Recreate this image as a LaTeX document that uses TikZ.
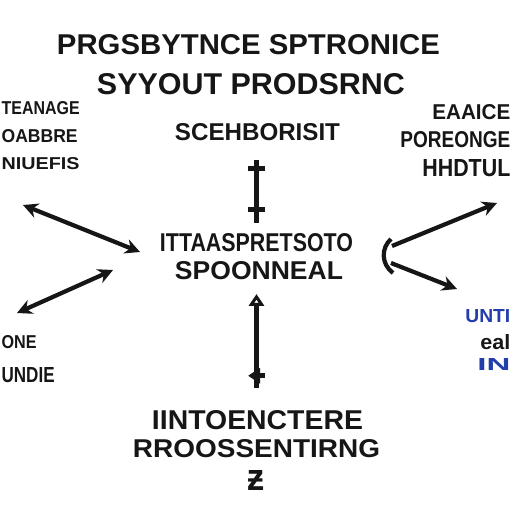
\documentclass[tikz,border=0pt]{standalone}
\usepackage{fontspec}
\setmainfont{Liberation Sans}
\usetikzlibrary{arrows.meta,decorations.markings}
\definecolor{ink}{RGB}{22,22,22}
\definecolor{inkblue}{RGB}{35,62,172}
\newlength{\px}\setlength{\px}{0.02cm}
\newcommand{\gtxt}[3]{\resizebox{#1\px}{#2\px}{\bfseries #3}}

\tikzset{
  lbl/.style={inner sep=0pt, text=ink},
  conn/.style={draw=ink, line width=2.4pt},
  twohead/.style={conn, {Stealth[length=8.5pt,width=8.5pt]}-{Stealth[length=8.5pt,width=8.5pt]}},
  onehead/.style={conn, -{Stealth[length=8.5pt,width=8.5pt]}},
  openhead/.style={conn, -{Triangle[open,length=6.8pt,width=8.5pt]}},
  crossbar/.style={postaction={decorate}, decoration={markings,
    mark=at position #1 with {\draw[ink, line width=2.8pt] (0,-4.8pt) -- (0,4.8pt);}}}
}

\begin{document}
\begin{tikzpicture}[x=0.02cm, y=-0.02cm]
  \useasboundingbox (0,0) rectangle (512,512);
  \fill[white] (0,0) rectangle (512,512);
  \clip (0,0) rectangle (512,512);

  % title
  \node[lbl] (title1) at (248.5,45) {\gtxt{383}{20}{PRGSBYTNCE SPTRONICE}};
  \node[lbl] (title2) at (251,84) {\gtxt{308}{21}{SYYOUT PRODSRNC}};

  % left and right blocks at the edges
  \node[lbl, anchor=east] (lt1) at (80,108.5) {\gtxt{78}{13}{TEANAGE}};
  \node[lbl, anchor=east] (lt2) at (78,136.5) {\gtxt{76}{13}{OABBRE}};
  \node[lbl, anchor=east] (lt3) at (80,164) {\gtxt{78}{12}{NIUEFIS}};
  \node[lbl, anchor=west] (rt1) at (432,112.5) {\gtxt{78}{15}{EAAICE}};
  \node[lbl, anchor=west] (rt2) at (400,140) {\gtxt{110}{16}{POREONGE}};
  \node[lbl, anchor=west] (rt3) at (422,168.5) {\gtxt{88}{17}{HHDTUL}};

  % middle column
  \node[lbl] (sch) at (257.5,132.5) {\gtxt{165}{17}{SCEHBORISIT}};
  \node[lbl] (mid1) at (256.5,242.5) {\gtxt{193}{18}{ITTAASPRETSOTO}};
  \node[lbl] (mid2) at (259,271) {\gtxt{168}{18}{SPOONNEAL}};
  \node[lbl] (bot1) at (257.5,420) {\gtxt{211}{19}{IINTOENCTERE}};
  \node[lbl] (bot2) at (256.5,449) {\gtxt{247}{18}{RROOSSENTIRNG}};
  \node[lbl] (botz) at (256.5,480) {\gtxt{17}{20}{ƶ}};

  % lower corners
  \node[lbl, anchor=east] (lb1) at (37,342) {\gtxt{35}{13}{ONE}};
  \node[lbl, anchor=east] (lb2) at (55,375) {\gtxt{53}{15}{UNDIE}};
  \node[lbl, anchor=west, text=inkblue] (rb1) at (465,316.5) {\gtxt{45}{13}{UNTI}};
  \node[lbl, anchor=west] (rb2) at (480,342.5) {\gtxt{30}{15}{eal}};
  \node[lbl, anchor=west, text=inkblue] (rb3) at (477,364) {\gtxt{33}{12}{IN}};

  % arrow ends
  \coordinate (upA) at (256.5,160);
  \coordinate (upB) at (256.5,223);
  \coordinate (dnA) at (256.5,388);
  \coordinate (dnB) at (256.5,294);
  \coordinate (l1a) at (23,205);
  \coordinate (l1b) at (140,252);
  \coordinate (l2a) at (113,270);
  \coordinate (l2b) at (17,313);
  \coordinate (rv1) at (392,246);
  \coordinate (rv2) at (391,263);
  \coordinate (r1) at (497,203);
  \coordinate (r2) at (457,289);

  \draw[conn, crossbar=0.14, crossbar=0.78] (upA) -- (upB);
  \draw[openhead, crossbar=0.13] (dnA) -- (dnB);
  \draw[twohead] (l1a) -- (l1b);
  \draw[twohead] (l2a) -- (l2b);
  \draw[onehead] (rv1) -- (r1);
  \draw[onehead] (rv2) -- (r2);
  \draw[conn] (391,239) .. controls (381,248) and (381,264) .. (393,273);
\end{tikzpicture}
\end{document}
